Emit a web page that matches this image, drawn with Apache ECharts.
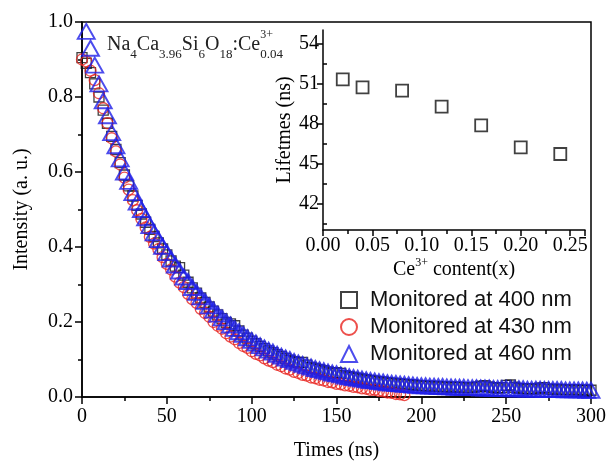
<!DOCTYPE html>
<html>
<head>
<meta charset="utf-8">
<script src="https://cdn.jsdelivr.net/npm/echarts@6.0.0/dist/echarts.min.js"></script>
<style>html,body{margin:0;padding:0;background:#fff}#chart{width:609px;height:466px}</style>
</head>
<body>
<div id="chart"></div>
<script>
// ---- data ----
const timeStep = 2.5;              // ns between decay points
const start400 = 0, start430 = 0, start460 = 2.5;
const seriesNames = ['Monitored at 400 nm', 'Monitored at 430 nm', 'Monitored at 460 nm'];

const intensity400 = [
  0.905,0.89,0.865,0.835,0.80,0.765,0.73,0.695,0.66,0.625,
  0.592,0.563,0.536,0.511,0.488,0.466,0.447,0.428,0.411,0.395,
  0.379,0.363,0.349,0.345,0.325,0.306,0.291,0.277,0.264,0.252,
  0.24,0.229,0.219,0.209,0.199,0.195,0.19,0.176,0.165,0.157,
  0.149,0.142,0.135,0.129,0.123,0.118,0.113,0.108,0.103,0.098,
  0.094,0.092,0.092,0.085,0.079,0.076,0.073,0.07,0.067,0.064,
  0.065,0.063,0.057,0.054,0.052,0.05,0.048,0.046,0.044,0.043,
  0.041,0.04,0.038,0.037,0.036,0.035,0.034,0.033,0.032,0.031,
  0.03,0.029,0.029,0.028,0.028,0.027,0.027,0.026,0.026,0.026,
  0.025,0.025,0.025,0.027,0.029,0.03,0.027,0.025,0.024,0.025,
  0.031,0.032,0.026,0.023,0.022,0.022,0.022,0.021,0.024,0.025,
  0.021,0.02,0.02,0.02,0.019,0.019,0.019,0.019,0.018,0.018,
  0.018
];
const intensity430 = [
  0.90,0.895,0.87,0.845,0.81,0.77,0.73,0.69,0.655,0.62,
  0.585,0.553,0.525,0.498,0.475,0.452,0.427,0.409,0.394,0.373,
  0.355,0.34,0.321,0.305,0.293,0.275,0.261,0.251,0.235,0.224,
  0.214,0.2,0.19,0.182,0.17,0.161,0.154,0.144,0.136,0.131,
  0.122,0.115,0.111,0.103,0.097,0.093,0.086,0.082,0.076,0.073,
  0.067,0.064,0.059,0.057,0.052,0.05,0.046,0.044,0.04,0.039,
  0.035,0.034,0.031,0.03,0.027,0.026,0.023,0.022,0.019,0.019,
  0.016,0.015,0.012,0.011,0.008,0.007,0.005
];
const intensity460 = [
  0.975,0.93,0.885,0.835,0.79,0.75,0.705,0.67,0.635,0.60,
  0.575,0.545,0.52,0.50,0.478,0.457,0.438,0.42,0.402,0.385,
  0.368,0.352,0.336,0.32,0.308,0.292,0.279,0.267,0.255,0.243,
  0.232,0.221,0.211,0.201,0.192,0.183,0.174,0.167,0.158,0.151,
  0.144,0.137,0.131,0.125,0.12,0.114,0.109,0.104,0.1,0.095,
  0.091,0.087,0.083,0.08,0.076,0.073,0.07,0.067,0.064,0.062,
  0.059,0.056,0.054,0.052,0.05,0.048,0.046,0.044,0.043,0.041,
  0.04,0.038,0.037,0.036,0.035,0.034,0.033,0.032,0.031,0.03,
  0.03,0.029,0.029,0.028,0.028,0.027,0.027,0.026,0.026,0.026,
  0.025,0.025,0.025,0.024,0.024,0.024,0.023,0.023,0.023,0.023,
  0.022,0.022,0.022,0.022,0.021,0.021,0.021,0.021,0.02,0.02,
  0.02,0.02,0.02,0.019,0.019,0.019,0.019,0.019,0.018,0.018
];

const ceContent = [0.02, 0.04, 0.08, 0.12, 0.16, 0.20, 0.24];
const lifetimes = [51.3, 50.7, 50.45, 49.25, 47.85, 46.2, 45.7];

const insetYLabels = [42, 45, 48, 51, 54];
const insetYMinor = [40.5, 43.5, 46.5, 49.5, 52.5];

// ---- chart ----
const serif = "'Liberation Serif','Times New Roman',serif";
const sans = "'Liberation Sans',Arial,sans-serif";
const pairs = (start, vals) => vals.map((v, i) => [start + i * timeStep, v]);

const lineStyle = {color: '#000', width: 1.5};
const chart = echarts.init(document.getElementById('chart'), null, {renderer: 'canvas'});

chart.setOption({
  animation: false,
  backgroundColor: '#fff',
  grid: [
    {left: 82, right: 17, top: 22, bottom: 69, show: true, borderColor: '#000', borderWidth: 1.5, backgroundColor: 'transparent'},
    {left: 323, right: 24, top: 30, bottom: 236}
  ],
  legend: {
    data: seriesNames,
    orient: 'vertical',
    left: 335, top: 284,
    itemWidth: 16, itemHeight: 16, itemGap: 5,
    textStyle: {fontFamily: sans, fontSize: 22, lineHeight: 22, color: '#111', padding: [0, 0, 0, 8]},
    selectedMode: false
  },
  xAxis: [
    {
      type: 'value', gridIndex: 0, min: 0, max: 300, interval: 50,
      axisLine: {show: true, onZero: false, lineStyle},
      axisTick: {show: true, length: 7, lineStyle},
      minorTick: {show: true, splitNumber: 2, length: 4, lineStyle},
      splitLine: {show: false},
      axisLabel: {color: '#000', fontFamily: serif, fontSize: 20, margin: 10},
      name: 'Times (ns)', nameLocation: 'middle', nameGap: 44,
      nameTextStyle: {color: '#000', fontFamily: serif, fontSize: 20}
    },
    {
      type: 'value', gridIndex: 1, min: 0, max: 0.265, interval: 0.05,
      axisLine: {show: true, onZero: false, lineStyle},
      axisTick: {show: true, length: 6, lineStyle},
      minorTick: {show: true, splitNumber: 2, length: 4, lineStyle},
      splitLine: {show: false},
      axisLabel: {
        color: '#000', fontFamily: serif, fontSize: 20, margin: 6, showMaxLabel: false,
        formatter: v => (Math.abs(v * 20 - Math.round(v * 20)) < 1e-6 ? v.toFixed(2) : '')
      },
      name: '{a|Ce}{p|3+}{a| content(x)}', nameLocation: 'middle', nameGap: 27,
      nameTextStyle: {
        color: '#000', fontFamily: serif, fontSize: 20,
        rich: {
          a: {color: '#000', fontFamily: serif, fontSize: 20, lineHeight: 26},
          p: {color: '#000', fontFamily: serif, fontSize: 12, lineHeight: 12, verticalAlign: 'top'}
        }
      }
    }
  ],
  yAxis: [
    {
      type: 'value', gridIndex: 0, min: 0, max: 1, interval: 0.2,
      axisLine: {show: true, onZero: false, lineStyle},
      axisTick: {show: true, length: 7, lineStyle},
      minorTick: {show: true, splitNumber: 2, length: 4, lineStyle},
      splitLine: {show: false},
      axisLabel: {color: '#000', fontFamily: serif, fontSize: 20, margin: 9, formatter: v => v.toFixed(1)},
      name: 'Intensity (a. u.)', nameLocation: 'middle', nameGap: 50,
      nameTextStyle: {color: '#000', fontFamily: serif, fontSize: 20}
    },
    {
      type: 'value', gridIndex: 1, min: 40, max: 55,
      axisLine: {show: true, onZero: false, lineStyle},
      axisTick: {show: true, length: 6, lineStyle, customValues: insetYLabels},
      splitLine: {show: false},
      axisLabel: {color: '#000', fontFamily: serif, fontSize: 20, margin: 4, customValues: insetYLabels},
      name: 'Lifetmes (ns)', nameLocation: 'middle', nameGap: 28,
      nameTextStyle: {color: '#000', fontFamily: serif, fontSize: 20}
    },
    {
      type: 'value', gridIndex: 1, min: 40, max: 55,
      axisLine: {show: false},
      axisTick: {show: true, length: 4, lineStyle, customValues: insetYMinor},
      splitLine: {show: false},
      axisLabel: {show: false}
    }
  ],
  graphic: [{
    type: 'text', left: 107, top: 29, silent: true,
    style: {
      text: '{m|Na}{s|4}{m|Ca}{s|3.96}{m|Si}{s|6}{m|O}{s|18}{m|:Ce}{p|3+}{s|0.04}',
      rich: {
        m: {fontFamily: serif, fontSize: 20, lineHeight: 32, fill: '#222'},
        s: {fontFamily: serif, fontSize: 13, lineHeight: 13, verticalAlign: 'bottom', fill: '#222'},
        p: {fontFamily: serif, fontSize: 12, lineHeight: 12, verticalAlign: 'top', width: 0, fill: '#222'}
      }
    }
  }],
  series: [
    {
      name: seriesNames[0], type: 'scatter', xAxisIndex: 0, yAxisIndex: 0, silent: true,
      symbol: 'rect', symbolSize: 10,
      itemStyle: {color: 'transparent', borderColor: '#111', borderWidth: 1.3},
      data: pairs(start400, intensity400)
    },
    {
      name: seriesNames[1], type: 'scatter', xAxisIndex: 0, yAxisIndex: 0, silent: true,
      symbol: 'circle', symbolSize: 11,
      itemStyle: {color: 'transparent', borderColor: '#e8231e', borderWidth: 1.3},
      data: pairs(start430, intensity430)
    },
    {
      name: seriesNames[2], type: 'scatter', xAxisIndex: 0, yAxisIndex: 0, silent: true,
      symbol: 'triangle', symbolSize: [17, 15],
      itemStyle: {color: 'transparent', borderColor: '#1f1fe8', borderWidth: 1.9},
      data: pairs(start460, intensity460)
    },
    {
      type: 'scatter', xAxisIndex: 1, yAxisIndex: 1, silent: true,
      symbol: 'rect', symbolSize: 12,
      itemStyle: {color: 'transparent', borderColor: '#111', borderWidth: 1.8},
      data: ceContent.map((x, i) => [x, lifetimes[i]])
    }
  ]
});
</script>
</body>
</html>
